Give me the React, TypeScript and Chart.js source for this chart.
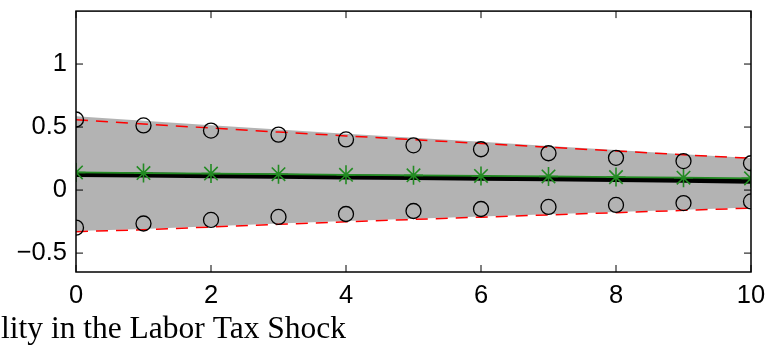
import React, { useEffect, useRef } from "react";
import { Chart, registerables } from "chart.js";

Chart.register(...registerables);

const PERIODS = [0, 1, 2, 3, 4, 5, 6, 7, 8, 9, 10];
const X_TICKS = [0, 2, 4, 6, 8, 10];
const Y_TICKS = [-0.5, 0, 0.5, 1];

const BAND_UPPER = [0.585, 0.55, 0.515, 0.48, 0.447, 0.415, 0.383, 0.35, 0.318, 0.285, 0.255];
const BAND_LOWER = [-0.325, -0.308, -0.287, -0.266, -0.246, -0.228, -0.21, -0.192, -0.174, -0.156, -0.138];
const RED_UPPER = [0.558, 0.525, 0.492, 0.46, 0.43, 0.4, 0.37, 0.34, 0.31, 0.28, 0.252];
const RED_LOWER = [-0.33, -0.315, -0.293, -0.272, -0.252, -0.233, -0.215, -0.197, -0.179, -0.161, -0.143];
const MEDIAN = [0.124, 0.119, 0.114, 0.109, 0.104, 0.099, 0.094, 0.089, 0.083, 0.077, 0.071];
const GREEN = [0.14, 0.135, 0.131, 0.126, 0.121, 0.117, 0.112, 0.108, 0.103, 0.098, 0.093];
const CIRCLE_UPPER = [0.56, 0.513, 0.472, 0.44, 0.402, 0.355, 0.324, 0.292, 0.256, 0.23, 0.213];
const CIRCLE_LOWER = [-0.298, -0.265, -0.237, -0.213, -0.19, -0.166, -0.15, -0.134, -0.118, -0.103, -0.09];

const CAPTION = "lity in the Labor Tax Shock";

const pts = (ys: number[]) => PERIODS.map((x, i) => ({ x, y: ys[i] }));

const framePlugin = {
  id: "frame",
  afterDatasetsDraw(chart: any) {
    const { ctx, chartArea: a, scales } = chart;
    ctx.save();
    ctx.strokeStyle = "#000";
    ctx.lineWidth = 1.5;
    ctx.strokeRect(a.left, a.top, a.right - a.left, a.bottom - a.top);
    const len = 7;
    ctx.beginPath();
    for (const v of Y_TICKS) {
      const y = scales.y.getPixelForValue(v);
      ctx.moveTo(a.left, y);
      ctx.lineTo(a.left + len, y);
      ctx.moveTo(a.right, y);
      ctx.lineTo(a.right - len, y);
    }
    for (const v of X_TICKS) {
      const x = scales.x.getPixelForValue(v);
      ctx.moveTo(x, a.bottom);
      ctx.lineTo(x, a.bottom - len);
      ctx.moveTo(x, a.top);
      ctx.lineTo(x, a.top + len);
    }
    ctx.lineWidth = 1;
    ctx.stroke();
    ctx.restore();
  },
  afterDraw(chart: any) {
    const { ctx } = chart;
    ctx.save();
    ctx.font = '31.5px "Liberation Serif", "Times New Roman", serif';
    ctx.fillStyle = "#000";
    ctx.textAlign = "left";
    ctx.textBaseline = "alphabetic";
    ctx.fillText(CAPTION, 1, 338);
    ctx.restore();
  },
};

export default function App() {
  const ref = useRef<HTMLCanvasElement | null>(null);

  useEffect(() => {
    document.body.style.margin = "0";
    const canvas = ref.current;
    if (!canvas) return;
    const font = { family: '"Liberation Sans", Arial, Helvetica, sans-serif', size: 25.5 };
    const chart = new Chart(canvas, {
      type: "line",
      data: {
        datasets: [
          {
            label: "circles upper",
            data: pts(CIRCLE_UPPER),
            showLine: false,
            pointStyle: "circle",
            pointRadius: 7.5,
            pointBorderWidth: 1.3,
            pointBorderColor: "#000",
            pointBackgroundColor: "rgba(0,0,0,0)",
            order: 0,
          },
          {
            label: "circles lower",
            data: pts(CIRCLE_LOWER),
            showLine: false,
            pointStyle: "circle",
            pointRadius: 7.5,
            pointBorderWidth: 1.3,
            pointBorderColor: "#000",
            pointBackgroundColor: "rgba(0,0,0,0)",
            order: 0,
          },
          {
            label: "green",
            data: pts(GREEN),
            borderColor: "rgb(34,139,34)",
            borderWidth: 1.8,
            pointStyle: "star",
            pointRadius: 9.5,
            pointBorderWidth: 1.6,
            pointBorderColor: "rgb(34,139,34)",
            pointBackgroundColor: "rgb(34,139,34)",
            order: 1,
          },
          {
            label: "median",
            data: pts(MEDIAN),
            borderColor: "#000",
            borderWidth: 5,
            pointRadius: 0,
            order: 2,
          },
          {
            label: "red upper",
            data: pts(RED_UPPER),
            borderColor: "#ff0000",
            borderWidth: 1.5,
            borderDash: [12, 8],
            pointRadius: 0,
            order: 3,
          },
          {
            label: "red lower",
            data: pts(RED_LOWER),
            borderColor: "#ff0000",
            borderWidth: 1.5,
            borderDash: [12, 8],
            pointRadius: 0,
            order: 3,
          },
          {
            label: "band upper",
            data: pts(BAND_UPPER),
            borderWidth: 0,
            borderColor: "rgba(0,0,0,0)",
            backgroundColor: "rgb(179,179,179)",
            fill: "+1",
            pointRadius: 0,
            order: 4,
          },
          {
            label: "band lower",
            data: pts(BAND_LOWER),
            borderWidth: 0,
            borderColor: "rgba(0,0,0,0)",
            pointRadius: 0,
            fill: false,
            order: 4,
          },
        ],
      },
      options: {
        animation: false,
        responsive: false,
        maintainAspectRatio: false,
        layout: { padding: { left: 0, right: 22, top: 9.5, bottom: 0 } },
        plugins: { legend: { display: false }, tooltip: { enabled: false } },
        scales: {
          x: {
            type: "linear",
            min: 0,
            max: 10,
            grid: { display: false, drawTicks: false },
            border: { display: false },
            afterBuildTicks: (s: any) => {
              s.ticks = X_TICKS.map((v) => ({ value: v }));
            },
            afterFit: (s: any) => {
              s.height = 75;
              s.paddingLeft = 0;
              s.paddingRight = 0;
            },
            ticks: { color: "#000", font, padding: 9, maxRotation: 0, autoSkip: false },
          },
          y: {
            type: "linear",
            min: -0.65,
            max: 1.42,
            grid: { display: false, drawTicks: false },
            border: { display: false },
            afterBuildTicks: (s: any) => {
              s.ticks = Y_TICKS.map((v) => ({ value: v }));
            },
            afterFit: (s: any) => {
              s.width = 76;
              s.paddingTop = 0;
              s.paddingBottom = 0;
            },
            ticks: {
              color: "#000",
              font,
              padding: 9,
              callback: (v: any) => String(v).replace("-", "\u2212"),
            },
          },
        },
      },
      plugins: [framePlugin],
    });
    return () => chart.destroy();
  }, []);

  return (
    <div style={{ width: 773, height: 347, background: "#fff" }}>
      <canvas ref={ref} width={773} height={347} style={{ display: "block" }} />
    </div>
  );
}
